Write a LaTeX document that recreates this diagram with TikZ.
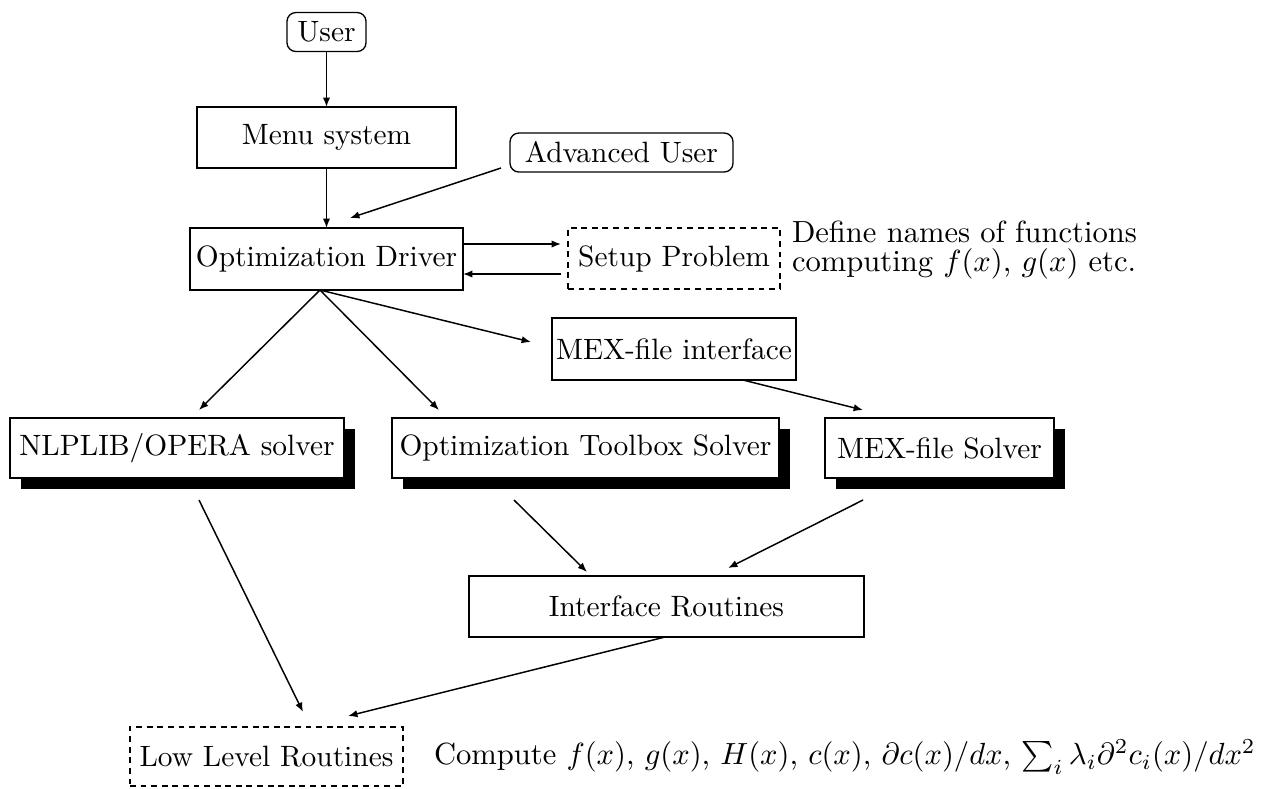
\documentclass[tikz,border=0pt]{standalone}
\usetikzlibrary{arrows.meta,shadows}
\begin{document}
\begin{tikzpicture}[x=0.34pt,y=-0.34pt,
  boxsize/.style 2 args={minimum width=#1*0.34pt,minimum height=#2*0.34pt},
  box/.style={draw,line width=0.45pt,inner sep=0pt,outer sep=0pt,align=center},
  roundbox/.style={box,rounded corners=3pt},
  dashbox/.style={box,dash pattern=on 2pt off 1.6pt},
  shadowbox/.style={box,fill=white,drop shadow={shadow xshift=3.6pt,shadow yshift=-3.6pt,fill=black,opacity=1}},
  plain/.style={inner sep=0pt,outer sep=0pt,scale=1.04,font=\fontsize{10pt}{9.3pt}\selectfont},
  arr/.style={-{Latex[length=3.2pt,width=2.5pt]},line width=0.5pt},
  ]
\useasboundingbox (0,0) rectangle (1269,788);
% nodes
\node[roundbox,boxsize={79}{39}] (user) at (326.5,32) {User};
\node[box,boxsize={259}{61}] (menu) at (326.5,137.5) {Menu system};
\node[roundbox,boxsize={223}{39}] (adv) at (621.5,152.5) {Advanced User};
\node[box,boxsize={273}{62}] (drv) at (326.5,259) {Optimization Driver};
\node[dashbox,boxsize={212}{61}] (setup) at (674,258.5) {Setup Problem};
\node[plain,anchor=west,align=left] (define) at (792,250) {Define names of functions\\computing $f(x)$, $g(x)$ etc.};
\node[box,boxsize={244}{62}] (mexif) at (674,349) {MEX-file interface};
\node[shadowbox,boxsize={334}{60}] (nlp) at (177,448) {NLPLIB/OPERA solver};
\node[shadowbox,boxsize={387}{60}] (opt) at (585.5,448) {Optimization Toolbox Solver};
\node[shadowbox,boxsize={229}{60}] (mexs) at (939.5,448) {MEX-file Solver};
\node[box,boxsize={395}{61}] (ifr) at (666.5,606.5) {Interface Routines};
\node[dashbox,boxsize={273}{59}] (low) at (266.5,756.5) {Low Level Routines};
\node[plain,anchor=west] (compute) at (434,757) {Compute $f(x)$, $g(x)$, $H(x)$, $c(x)$, $\partial c(x)/dx$, $\sum_i \lambda_i \partial^2 c_i(x)/dx^2$};
% coordinates for arrow ends
\coordinate (advS) at (501,168);
\coordinate (advE) at (350,218);
\coordinate (a1) at (463,244);
\coordinate (a2) at (561,244);
\coordinate (a3) at (561,274);
\coordinate (a4) at (463,274);
\coordinate (br) at (320,290);
\coordinate (t1) at (199,410);
\coordinate (t2) at (439,410);
\coordinate (t3) at (531,342);
\coordinate (s4) at (743,380);
\coordinate (t4) at (863,410);
\coordinate (s5) at (199,500);
\coordinate (t5) at (303,712);
\coordinate (s6) at (514,500);
\coordinate (t6) at (587,572);
\coordinate (s7) at (863,500);
\coordinate (t7) at (728,568);
\coordinate (s8) at (665,637);
\coordinate (t8) at (348,716);
% connectors
\draw[arr] (user) -- (menu);
\draw[arr] (menu) -- (drv);
\draw[arr] (advS) -- (advE);
\draw[arr] (a1) -- (a2);
\draw[arr] (a3) -- (a4);
\draw[arr] (br) -- (t1);
\draw[arr] (br) -- (t2);
\draw[arr] (br) -- (t3);
\draw[arr] (s4) -- (t4);
\draw[arr] (s5) -- (t5);
\draw[arr] (s6) -- (t6);
\draw[arr] (s7) -- (t7);
\draw[arr] (s8) -- (t8);
\end{tikzpicture}
\end{document}
